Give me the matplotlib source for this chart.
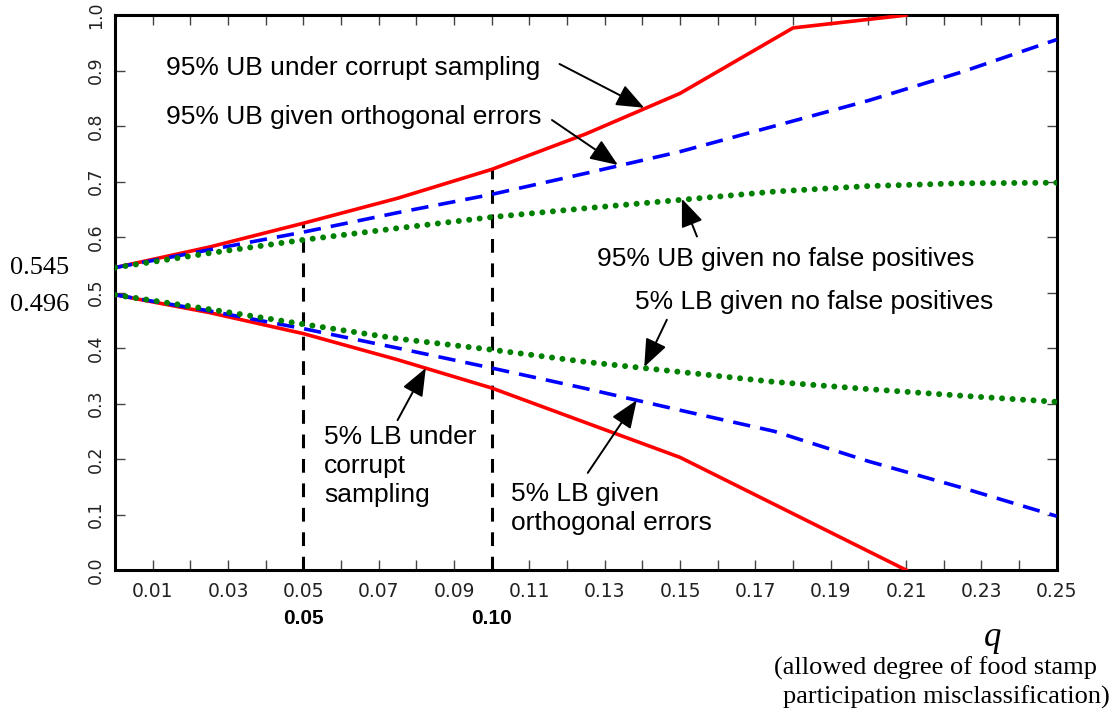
import matplotlib
matplotlib.use('Agg')
import matplotlib.pyplot as plt
import numpy as np

# q values and bounds
q_grid = [0, 0.025, 0.05, 0.075, 0.10, 0.125, 0.15, 0.175, 0.20, 0.225, 0.25]

ub_corrupt_q = [0, 0.025, 0.05, 0.075, 0.10, 0.125, 0.15, 0.18, 0.21]
ub_corrupt = [0.545, 0.582, 0.625, 0.670, 0.722, 0.786, 0.859, 0.977, 1.0]
ub_orth = [0.545, 0.577, 0.609, 0.644, 0.677, 0.715, 0.754, 0.800, 0.846, 0.898, 0.956]
ub_nfp = [0.545, 0.571, 0.595, 0.616, 0.636, 0.652, 0.667, 0.682, 0.692, 0.697, 0.698]

lb_corrupt_q = [0, 0.025, 0.05, 0.075, 0.10, 0.15, 0.21]
lb_corrupt = [0.496, 0.464, 0.426, 0.379, 0.328, 0.203, 0.0]
lb_orth = [0.496, 0.467, 0.435, 0.400, 0.364, 0.327, 0.288, 0.250, 0.196, 0.148, 0.097]
lb_nfp = [0.496, 0.470, 0.443, 0.417, 0.397, 0.375, 0.357, 0.339, 0.326, 0.314, 0.303]

vline_q = [0.05, 0.10]
vline_top = [0.625, 0.722]
vline_labels = ['0.05', '0.10']

x_ticks = [round(0.01 * i, 2) for i in range(1, 26)]
y_ticks = [round(0.1 * i, 1) for i in range(0, 11)]

# (text, text xy, arrow tip xy)
annotations = [
  ('95% UB under corrupt sampling', (0.0135, 0.905), (0.1405, 0.833)),
  ('95% UB given orthogonal errors', (0.0135, 0.817), (0.1335, 0.730)),
  ('95% UB given no false positives', (0.128, 0.560), (0.1505, 0.669)),
  ('5% LB given no false positives', (0.138, 0.483), (0.1405, 0.366)),
  ('5% LB under\ncorrupt\nsampling', (0.0555, 0.187), (0.0825, 0.364)),
  ('5% LB given\northogonal errors', (0.105, 0.111), (0.1385, 0.306)),
]
arrow_starts = [(0.118, 0.912), (0.116, 0.811), (0.1545, 0.601), (0.1465, 0.451),
                (0.075, 0.270), (0.1255, 0.175)]

text_size = 19

fig = plt.figure(figsize=(11.17, 7.15), dpi=100)
ax = fig.add_axes([0.103, 0.2028, 0.843, 0.776])

ax.plot(ub_corrupt_q, ub_corrupt, color='#ff0000', lw=2.6, zorder=3)
ax.plot(lb_corrupt_q, lb_corrupt, color='#ff0000', lw=2.6, zorder=3)
ax.plot(q_grid, ub_orth, color='#0000ff', lw=2.6, ls=(0, (4.8, 2.8)), zorder=4)
ax.plot(q_grid, lb_orth, color='#0000ff', lw=2.6, ls=(0, (4.8, 2.8)), zorder=4)
ax.plot(q_grid, ub_nfp, color='#008000', lw=4.3, ls=(0, (0.01, 1.75)),
        dash_capstyle='round', zorder=5)
ax.plot(q_grid, lb_nfp, color='#008000', lw=4.3, ls=(0, (0.01, 1.75)),
        dash_capstyle='round', zorder=5)

for xq, top, lab in zip(vline_q, vline_top, vline_labels):
  ax.plot([xq, xq], [0, top], color='black', lw=2.2, ls=(0, (4.5, 3.5)), zorder=2)
  ax.annotate(lab, xy=(xq, 0), xycoords=('data', 'axes fraction'),
              xytext=(0, -35), textcoords='offset points', ha='center', va='center',
              fontsize=15, fontweight='bold', family='Liberation Sans')

for (txt, txy, tip), start in zip(annotations, arrow_starts):
  ax.text(txy[0], txy[1], txt, fontsize=text_size, family='Liberation Sans',
          ha='left', va='center', linespacing=1.25, zorder=6)
  ax.annotate('', xy=tip, xytext=start,
              arrowprops=dict(arrowstyle='-|>,head_length=0.95,head_width=0.38',
                              mutation_scale=18, color='black', lw=1.4,
                              shrinkA=0, shrinkB=0), zorder=6)

ax.set_xlim(0, 0.25)
ax.set_ylim(0, 1.0)
ax.set_xticks(x_ticks)
ax.set_xticklabels(['%.2f' % t if round(t * 100) % 2 == 1 else '' for t in x_ticks])
ax.set_yticks(y_ticks)
ax.set_yticklabels(['%.1f' % t for t in y_ticks], rotation=90, va='center')
ax.tick_params(direction='in', length=7, width=1, top=True, right=True,
               colors='#444444', labelcolor='#222222')
ax.tick_params(axis='x', pad=9, labelsize=13.5)
ax.tick_params(axis='y', pad=7, labelsize=12.5)
for sp in ax.spines.values():
  sp.set_linewidth(2.2)

fig.text(10 / 1117, 1 - 268 / 715, '0.545', fontsize=19, family='Liberation Serif',
         ha='left', va='center')
fig.text(10 / 1117, 1 - 305 / 715, '0.496', fontsize=19, family='Liberation Serif',
         ha='left', va='center')
fig.text(993 / 1117, 1 - 637 / 715, 'q', fontsize=25, family='Liberation Serif',
         style='italic', ha='center', va='center')
fig.text(1097 / 1117, 1 - 668 / 715, '(allowed degree of food stamp', fontsize=19,
         family='Liberation Serif', ha='right', va='center')
fig.text(1110 / 1117, 1 - 697 / 715, 'participation misclassification)', fontsize=19,
         family='Liberation Serif', ha='right', va='center')

fig.savefig('out.png', dpi=100)
